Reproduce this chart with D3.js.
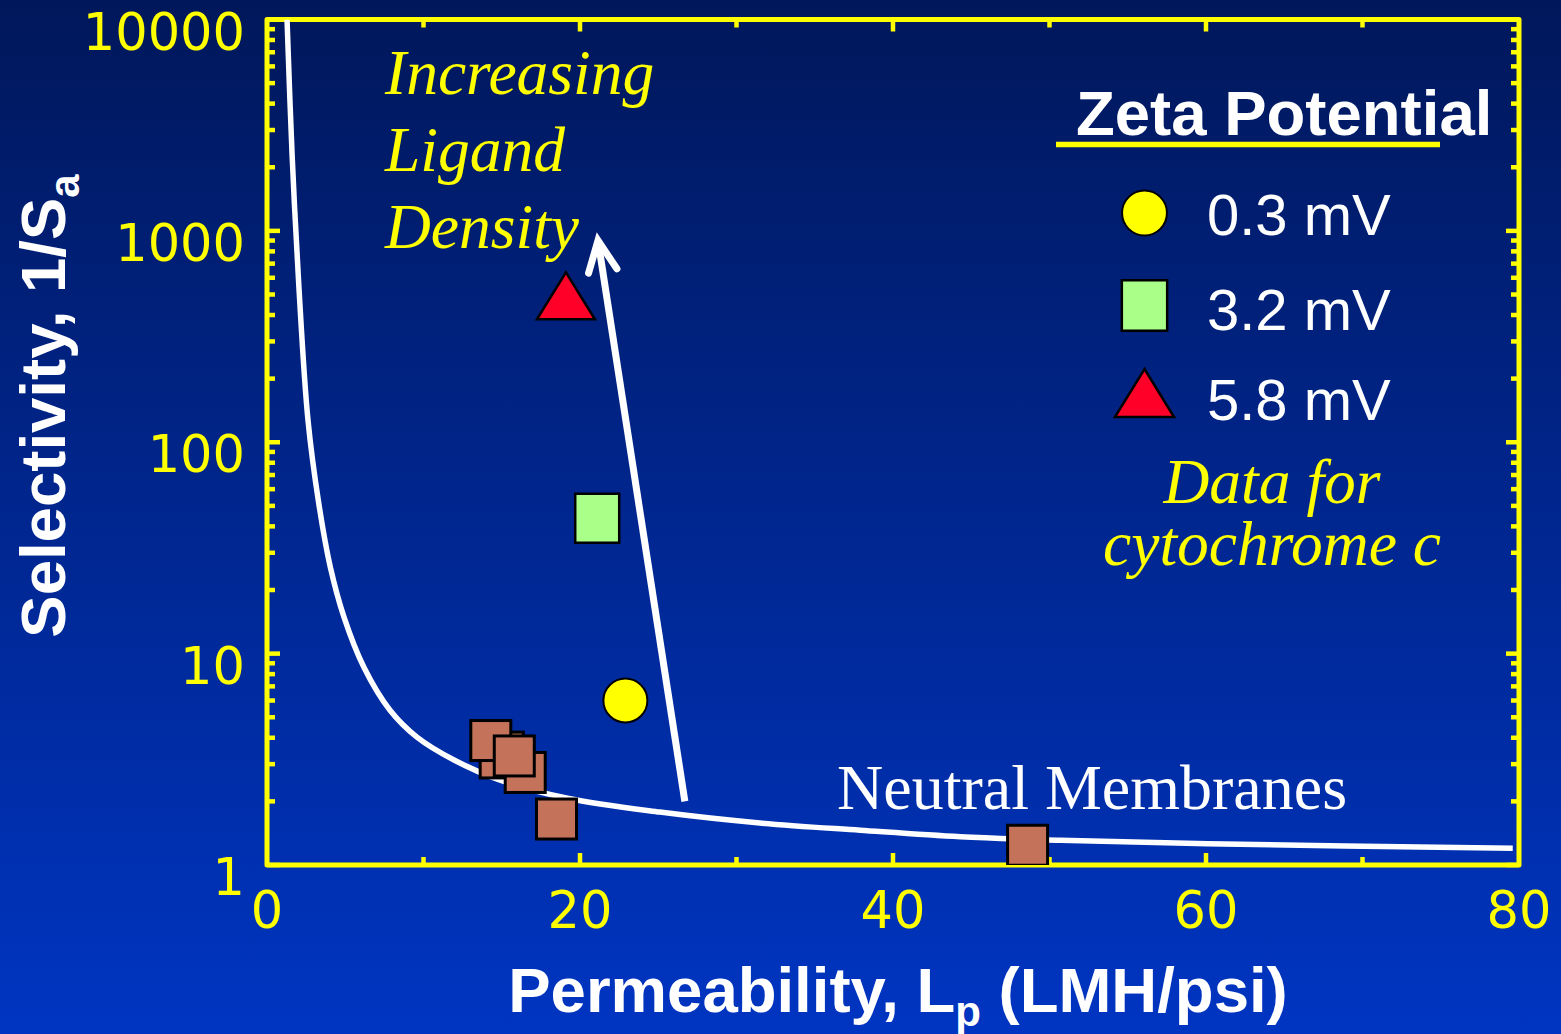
<!DOCTYPE html>
<html><head><meta charset="utf-8">
<script src="https://cdn.jsdelivr.net/npm/d3@7"></script>
<style>html,body{margin:0;padding:0;background:#0028a0;} svg{display:block}</style>
</head><body>
<svg id="c" width="1561" height="1034"></svg>
<script>
// ---- data ----
const xTicks = [0, 20, 40, 60, 80];
const xMinorTicks = [10, 30, 50, 70];
const yTicks = [1, 10, 100, 1000, 10000];
const yTickLabels = ["1", "10", "100", "1000", "10000"];

// neutral membranes (brown squares)
const neutralX = [15.1, 14.9, 16.5, 14.3, 15.8, 18.5, 48.6];
const neutralY = [3.42, 3.21, 2.74, 3.88, 3.28, 1.65, 1.24];

// charged membranes (zeta potential series)
const zetaLabels = ["0.3 mV", "3.2 mV", "5.8 mV"];
const zetaX = [22.9, 21.1, 19.1];
const zetaY = [6.0, 43.7, 493];
const zetaColors = ["#ffff00", "#aaff88", "#ff0028"];
const zetaShapes = ["circle", "square", "triangle"];

// upper-bound curve for neutral membranes
const curveX = [1.28, 1.60, 2.04, 2.62, 3.28, 4.05, 4.92, 6.20, 7.86, 9.58, 11.95, 14.9, 19.2, 25.1, 31.5, 37.9, 44.3, 50.7, 60.1, 79.6];
const curveY = [10000, 2325, 540, 127, 53, 25.6, 14.9, 8.6, 5.4, 4.03, 3.14, 2.52, 2.07, 1.78, 1.58, 1.46, 1.36, 1.31, 1.26, 1.20];

// arrow "Increasing Ligand Density" in data coordinates
const arrowX = [26.7, 21.15];
const arrowY = [2.0, 900];

// ---- layout ----
const W = 1561, H = 1034;
const L = 267, R = 1519, T = 19.5, B = 865;
const svg = d3.select("#c");
const defs = svg.append("defs");
const grad = defs.append("linearGradient").attr("id", "bg").attr("x1", 0).attr("y1", 0).attr("x2", 0).attr("y2", 1);
grad.append("stop").attr("offset", "0%").attr("stop-color", "#00175a");
grad.append("stop").attr("offset", "50%").attr("stop-color", "#00268f");
grad.append("stop").attr("offset", "100%").attr("stop-color", "#0035c2");
svg.append("rect").attr("width", W).attr("height", H).attr("fill", "url(#bg)");
defs.append("clipPath").attr("id", "clip").append("rect").attr("x", L).attr("y", T).attr("width", R - L).attr("height", B - T);

const x = d3.scaleLinear().domain([0, 80]).range([L, R]);
const y = d3.scaleLog().domain([1, 10000]).range([B, T]);

const yellow = "#ffff00";
const tickW = 4.5;

// minor y ticks
const yMinor = [];
for (let d = 1; d < 10000; d *= 10) for (let k = 2; k <= 9; k++) yMinor.push(d * k);

const axes = svg.append("g").attr("stroke", yellow).attr("stroke-width", tickW);
// left & right ticks
[[L, 1], [R, -1]].forEach(([x0, dir]) => {
  axes.selectAll(null).data(yMinor).enter().append("line")
    .attr("x1", x0).attr("x2", x0 + dir * 8).attr("y1", d => y(d)).attr("y2", d => y(d));
  axes.selectAll(null).data(yTicks).enter().append("line")
    .attr("x1", x0).attr("x2", x0 + dir * 13).attr("y1", d => y(d)).attr("y2", d => y(d));
});
// bottom & top ticks
[[B, -1], [T, 1]].forEach(([y0, dir]) => {
  axes.selectAll(null).data(xMinorTicks).enter().append("line")
    .attr("y1", y0).attr("y2", y0 + dir * 8).attr("x1", d => x(d)).attr("x2", d => x(d));
  axes.selectAll(null).data(xTicks.slice(1, -1)).enter().append("line")
    .attr("y1", y0).attr("y2", y0 + dir * 12).attr("x1", d => x(d)).attr("x2", d => x(d));
});
// frame
svg.append("rect").attr("x", L).attr("y", T).attr("width", R - L).attr("height", B - T)
  .attr("fill", "none").attr("stroke", yellow).attr("stroke-width", 5).attr("stroke-linejoin", "round");

// tick labels
svg.append("g").selectAll("text").data(yTicks).enter().append("text")
  .attr("x", 245).attr("y", d => y(d) + 30)
  .attr("text-anchor", "end").attr("fill", yellow)
  .attr("font-family", "'DejaVu Sans', Verdana, sans-serif").attr("font-size", 51)
  .text((d, i) => yTickLabels[i]);
svg.append("g").selectAll("text").data(xTicks).enter().append("text")
  .attr("x", d => x(d)).attr("y", B + 63)
  .attr("text-anchor", "middle").attr("fill", yellow)
  .attr("font-family", "'DejaVu Sans', Verdana, sans-serif").attr("font-size", 51)
  .text(d => d);

// axis titles
const xt = svg.append("text").attr("x", 898).attr("y", 1012).attr("text-anchor", "middle")
  .attr("fill", "#fff").attr("font-family", "'Liberation Sans', Arial, sans-serif")
  .attr("font-weight", "bold").attr("font-size", 63.5);
xt.append("tspan").text("Permeability, L");
xt.append("tspan").attr("font-size", 42).attr("dy", 14).text("p");
xt.append("tspan").attr("dy", -14).text(" (LMH/psi)");

const yt = svg.append("text").attr("transform", "translate(65,406) rotate(-90)").attr("text-anchor", "middle")
  .attr("fill", "#fff").attr("font-family", "'Liberation Sans', Arial, sans-serif")
  .attr("font-weight", "bold").attr("font-size", 63.5);
yt.append("tspan").text("Selectivity, 1/S");
yt.append("tspan").attr("font-size", 42).attr("dy", 14).text("a");

// curve
const plot = svg.append("g").attr("clip-path", "url(#clip)");
plot.append("path").datum(curveX.map((d, i) => [d, curveY[i]]))
  .attr("d", d3.line().x(d => x(d[0])).y(d => y(d[1])).curve(d3.curveCatmullRom.alpha(0.5)))
  .attr("fill", "none").attr("stroke", "#fff").attr("stroke-width", 5.5);

// neutral squares
const bs = 40;
plot.selectAll("rect.n").data(neutralX.map((d, i) => [d, neutralY[i]])).enter().append("rect")
  .attr("class", "n")
  .attr("x", d => x(d[0]) - bs / 2).attr("y", d => y(d[1]) - bs / 2)
  .attr("width", bs).attr("height", bs)
  .attr("fill", "#c4735a").attr("stroke", "#000").attr("stroke-width", 3);

// marker drawing helper
function marker(g, shape, cx, cy, color, s) {
  if (shape === "circle") {
    g.append("circle").attr("cx", cx).attr("cy", cy).attr("r", 22 * s)
      .attr("fill", color).attr("stroke", "#000").attr("stroke-width", 2);
  } else if (shape === "square") {
    const w = 44 * s, h = 49 * s;
    g.append("rect").attr("x", cx - w / 2).attr("y", cy - h / 2).attr("width", w).attr("height", h)
      .attr("fill", color).attr("stroke", "#000").attr("stroke-width", 2.5);
  } else {
    const w = 58 * s, h = 47 * s;
    g.append("path").attr("d", `M${cx},${cy - h / 2}L${cx + w / 2},${cy + h / 2}L${cx - w / 2},${cy + h / 2}Z`)
      .attr("fill", color).attr("stroke", "#000").attr("stroke-width", 2.5).attr("stroke-linejoin", "miter");
  }
}
zetaX.forEach((d, i) => marker(plot, zetaShapes[i], x(d), y(zetaY[i]), zetaColors[i], 1));

// arrow
const ax0 = x(arrowX[0]), ay0 = y(arrowY[0]), ax1 = x(arrowX[1]), ay1 = y(arrowY[1]);
const ang = Math.atan2(ay0 - ay1, ax0 - ax1);
const wl = 34, wa = 25 * Math.PI / 180;
const ag = svg.append("g").attr("stroke", "#fff").attr("stroke-width", 7).attr("stroke-linecap", "round").attr("fill", "none");
ag.append("line").attr("x1", ax0).attr("y1", ay0).attr("x2", ax1).attr("y2", ay1).attr("stroke-linecap", "butt");
ag.append("path").attr("stroke-linejoin", "miter")
  .attr("d", `M${ax1 + wl * Math.cos(ang + wa)},${ay1 + wl * Math.sin(ang + wa)}L${ax1},${ay1}L${ax1 + wl * Math.cos(ang - wa)},${ay1 + wl * Math.sin(ang - wa)}`);

// annotations
const serifI = "'Liberation Serif', 'Times New Roman', serif";
const ann = svg.append("g").attr("fill", yellow).attr("font-family", serifI).attr("font-style", "italic").attr("font-size", 63.5);
[["Increasing", 94], ["Ligand", 171], ["Density", 248]].forEach(([t, yy]) =>
  ann.append("text").attr("x", 385).attr("y", yy).text(t));
const dataNote = svg.append("text").attr("x", 1272).attr("y", 503).attr("text-anchor", "middle")
  .attr("fill", yellow).attr("font-family", serifI).attr("font-style", "italic").attr("font-size", 63.5);
dataNote.append("tspan").attr("x", 1272).text("Data for");
dataNote.append("tspan").attr("x", 1272).attr("dy", 62).text("cytochrome c");

svg.append("text").attr("x", 837).attr("y", 809).attr("fill", "#fff")
  .attr("font-family", serifI).attr("font-size", 64).text("Neutral Membranes");

// legend
svg.append("text").attr("x", 1076).attr("y", 135).attr("fill", "#fff")
  .attr("font-family", "'Liberation Sans', Arial, sans-serif").attr("font-weight", "bold").attr("font-size", 63.5)
  .text("Zeta Potential");
svg.append("line").attr("x1", 1056).attr("x2", 1440).attr("y1", 144.5).attr("y2", 144.5)
  .attr("stroke", yellow).attr("stroke-width", 5.5);
const legY = [213, 305.5, 393];
const legBase = [235, 330, 420];
const lg = svg.append("g");
zetaLabels.forEach((t, i) => {
  marker(lg, zetaShapes[i], 1144.5, legY[i], zetaColors[i], i === 1 ? 1.03 : 1.02);
  lg.append("text").attr("x", 1207).attr("y", legBase[i]).attr("fill", "#fff")
    .attr("font-family", "'Liberation Sans', Arial, sans-serif").attr("font-size", 58).text(t);
});
</script>
</body></html>
